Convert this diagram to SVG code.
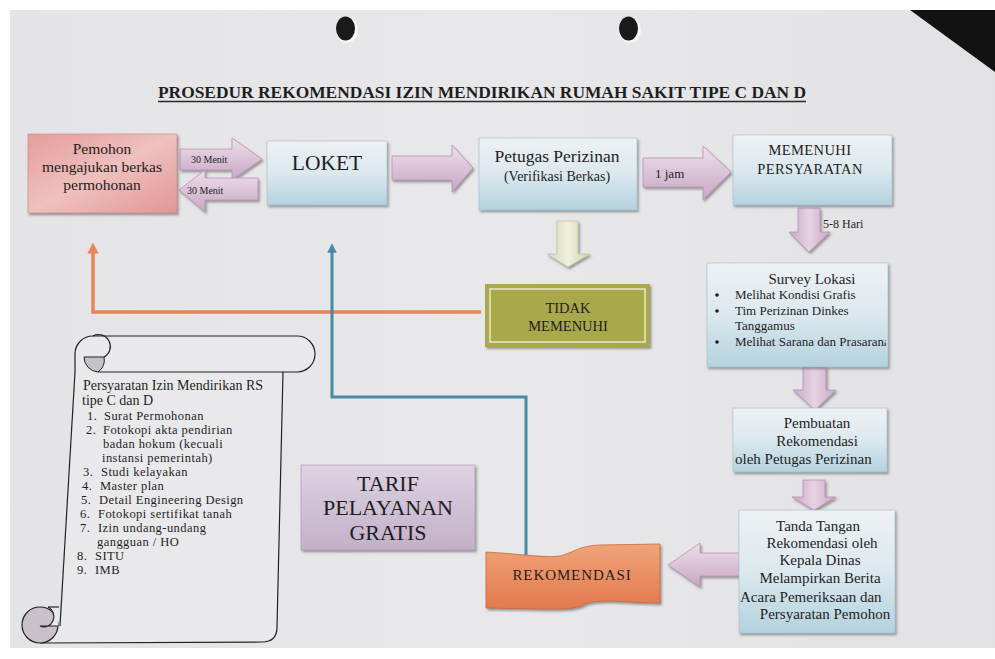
<svg xmlns="http://www.w3.org/2000/svg" width="995" height="659" viewBox="0 0 995 659" font-family="'Liberation Serif', 'DejaVu Serif', serif">
<defs>
<linearGradient id="gBlue" x1="0" y1="0" x2="0" y2="1"><stop offset="0" stop-color="#eef1f3"/><stop offset="0.5" stop-color="#dce8ee"/><stop offset="1" stop-color="#b3d2de"/></linearGradient>
<linearGradient id="gRed" x1="0" y1="0" x2="1" y2="1"><stop offset="0" stop-color="#e59d9d"/><stop offset="0.5" stop-color="#efc0bd"/><stop offset="1" stop-color="#e19696"/></linearGradient>
<linearGradient id="gArrow" x1="0" y1="0" x2="0" y2="1"><stop offset="0" stop-color="#eedfeb"/><stop offset="1" stop-color="#c7a6c3"/></linearGradient>
<linearGradient id="gArrowV" x1="0" y1="0" x2="1" y2="0"><stop offset="0" stop-color="#c9a8c5"/><stop offset="0.5" stop-color="#e6d3e2"/><stop offset="1" stop-color="#c9a8c5"/></linearGradient>
<linearGradient id="gYel" x1="0" y1="0" x2="1" y2="0"><stop offset="0" stop-color="#d6d6b8"/><stop offset="0.5" stop-color="#efefdc"/><stop offset="1" stop-color="#cfcfae"/></linearGradient>
<linearGradient id="gOrange" x1="0" y1="0" x2="0" y2="1"><stop offset="0" stop-color="#f1a37a"/><stop offset="1" stop-color="#e27a4c"/></linearGradient>
<linearGradient id="gPurple" x1="0" y1="0" x2="0" y2="1"><stop offset="0" stop-color="#ddd2e2"/><stop offset="1" stop-color="#c3b0c8"/></linearGradient>
<linearGradient id="gPaper" x1="0" y1="0" x2="1" y2="0"><stop offset="0" stop-color="#e4e4e6"/><stop offset="0.5" stop-color="#e8e8ea"/><stop offset="1" stop-color="#e2e2e4"/></linearGradient>
<filter id="sh" x="-10%" y="-10%" width="130%" height="130%"><feDropShadow dx="1.5" dy="2" stdDeviation="1" flood-color="#555" flood-opacity="0.55"/></filter>
<marker id="mOr" viewBox="0 0 10 10" refX="5" refY="5" markerWidth="3.2" markerHeight="3.2" orient="auto"><path d="M0,0 L10,5 L0,10 z" fill="#e8845a"/></marker>
<marker id="mBl" viewBox="0 0 10 10" refX="5" refY="5" markerWidth="3.2" markerHeight="3.2" orient="auto"><path d="M0,0 L10,5 L0,10 z" fill="#4a8aa8"/></marker>
<style>
text{font-family:'Liberation Serif','DejaVu Serif',serif;fill:#1e1e1e}
.c{text-anchor:middle}
.box{filter:url(#sh)}
.arr{fill:url(#gArrow);stroke:#b892b2;stroke-width:0.8;filter:url(#sh)}
.arrv{fill:url(#gArrowV);stroke:#b892b2;stroke-width:0.8;filter:url(#sh)}
.t13{font-size:13px}
.t14{font-size:14px}
.t15{font-size:15px}
.tp{font-size:15.5px}
.lst{font-size:12.5px;letter-spacing:0.45px}
.ln{fill:none;stroke:#222;stroke-width:1.2}
</style>
</defs>

<!-- paper / photo background -->
<rect x="0" y="0" width="995" height="659" fill="#ffffff"/>
<rect x="10" y="10" width="985" height="638" fill="url(#gPaper)"/>
<polygon points="910,10 995,10 995,72" fill="#121212"/>
<g id="holes">
<ellipse cx="347" cy="30" rx="11" ry="13" fill="#f6f6f6"/>
<ellipse cx="345.5" cy="28.5" rx="9.5" ry="12" fill="#1a1a1a"/>
<ellipse cx="630" cy="30" rx="11" ry="13" fill="#f6f6f6"/>
<ellipse cx="628.5" cy="28.5" rx="9.5" ry="12" fill="#1a1a1a"/>
</g>

<g id="title">
<text x="158" y="98" font-weight="bold" font-size="16" textLength="648" lengthAdjust="spacingAndGlyphs">PROSEDUR REKOMENDASI IZIN MENDIRIKAN RUMAH SAKIT TIPE C DAN D</text>
<line x1="158" y1="101.5" x2="806" y2="101.5" stroke="#2a2a2a" stroke-width="1.3"/>
</g>

<g id="connectors" fill="none">
<polyline points="481,312 93,312 93,248" stroke="#e8845a" stroke-width="3.5" marker-end="url(#mOr)"/>
<polyline points="526,557 526,397 332,397 332,248" stroke="#4a8aa8" stroke-width="3" marker-end="url(#mBl)"/>
<polygon class="arr" points="180,149 232,149 232,138 262,159 232,180 232,170 180,170"/>
<polygon class="arr" points="258,178 205,178 205,170 179,190 205,212 205,200 258,200"/>
<polygon class="arr" points="392,156 452,156 452,145 473,168 452,192 452,180 392,180"/>
<polygon class="arr" points="643,158 703,158 703,146 731,172 703,200 703,187 643,187"/>
<polygon class="arrv" points="798,208 820,208 820,232 830,232 809,252 789,232 798,232"/>
<polygon points="557,221 578,221 578,254 590,254 568,267 547,254 557,254" fill="url(#gYel)" stroke="#c4c4a4" stroke-width="0.8" filter="url(#sh)"/>
<polygon class="arrv" points="803,367 826,367 826,390 836,390 815,410 793,390 803,390"/>
<polygon class="arrv" points="803,480 825,480 825,497 836,497 814,510 792,497 803,497"/>
<polygon class="arr" points="742,553 700,553 700,543 668,565 700,587 700,576 742,576"/>
<text x="191" y="163" font-size="10">30 Menit</text>
<text x="187" y="194" font-size="10">30 Menit</text>
<text x="655" y="178" class="t13">1 jam</text>
<text x="823" y="228" font-size="12">5-8 Hari</text>
</g>

<g id="pemohon">
<rect class="box" x="28" y="134" width="149" height="79" fill="url(#gRed)" stroke="#c98080" stroke-width="0.6"/>
<text class="c tp" x="102" y="154">Pemohon</text>
<text class="c tp" x="102" y="172">mengajukan berkas</text>
<text class="c tp" x="102" y="190">permohonan</text>
</g>

<g id="loket">
<rect class="box" x="267" y="141" width="120" height="64" fill="url(#gBlue)" stroke="#9fbccb" stroke-width="0.6"/>
<text class="c" x="327" y="170" font-size="21.5">LOKET</text>
</g>

<g id="petugas">
<rect class="box" x="479" y="138" width="158" height="72" fill="url(#gBlue)" stroke="#9fbccb" stroke-width="0.6"/>
<text class="c" x="557" y="162" font-size="17.5">Petugas Perizinan</text>
<text class="c t14" x="557" y="181">(Verifikasi Berkas)</text>
</g>

<g id="memenuhi">
<rect class="box" x="733" y="135" width="159" height="70" fill="url(#gBlue)" stroke="#9fbccb" stroke-width="0.6"/>
<text class="c" x="810" y="155" font-size="14.5" letter-spacing="0.4">MEMENUHI</text>
<text class="c" x="810" y="174" font-size="14.5" letter-spacing="0.4">PERSYARATAN</text>
</g>

<g id="tidak">
<rect class="box" x="485" y="284" width="165" height="63" fill="#a9a84c"/>
<rect x="490" y="289" width="155" height="53" fill="none" stroke="#f2f2e0" stroke-width="1.3"/>
<text class="c" x="568" y="313" font-size="14.5">TIDAK</text>
<text class="c" x="568" y="331" font-size="14.5">MEMENUHI</text>
</g>

<g id="survey">
<rect class="box" x="707" y="263" width="181" height="104" fill="url(#gBlue)" stroke="#9fbccb" stroke-width="0.6"/>
<text class="c t15" x="812" y="284">Survey Lokasi</text>
<g class="t13">
<circle cx="717" cy="295" r="1.8" fill="#1e1e1e"/>
<text x="735" y="299" class="t13">Melihat Kondisi Grafis</text>
<circle cx="717" cy="311" r="1.8" fill="#1e1e1e"/>
<text x="735" y="315" class="t13">Tim Perizinan Dinkes</text>
<text x="735" y="330" class="t13">Tanggamus</text>
<circle cx="717" cy="342" r="1.8" fill="#1e1e1e"/>
<svg x="700" y="330" width="186" height="25" overflow="hidden"><text x="35" y="16" class="t13">Melihat Sarana dan Prasarana</text></svg>
</g>
</g>

<g id="pembuatan">
<rect class="box" x="733" y="408" width="154" height="64" fill="url(#gBlue)" stroke="#9fbccb" stroke-width="0.6"/>
<text class="c t15" x="817" y="428">Pembuatan</text>
<text class="c t15" x="817" y="446">Rekomendasi</text>
<svg x="733" y="450" width="154" height="20" overflow="hidden"><text x="2" y="14" class="t15">oleh Petugas  Perizinan</text></svg>
</g>

<g id="tandatangan">
<rect class="box" x="739" y="510" width="156" height="123" fill="url(#gBlue)" stroke="#9fbccb" stroke-width="0.6"/>
<text class="c t15" x="818" y="531">Tanda Tangan</text>
<text class="c t15" x="822" y="548">Rekomendasi oleh</text>
<text class="c t15" x="820" y="565">Kepala Dinas</text>
<text class="c t15" x="820" y="583">Melampirkan Berita</text>
<svg x="739" y="588" width="156" height="20" overflow="hidden"><text x="1" y="14" class="t15">Acara Pemeriksaan dan</text></svg>
<text class="c t15" x="825" y="619">Persyaratan Pemohon</text>
</g>

<g id="rekomendasi">
<path class="box" d="M486,552 C520,554 545,558 560,556 C575,552 578,546 600,545 L660,544 L660,603 C630,603 600,598 585,604 C575,610 560,609 540,609 L486,608 Z" fill="url(#gOrange)" stroke="#c76a3c" stroke-width="0.8"/>
<text class="c" x="572" y="580" font-size="15" letter-spacing="0.9">REKOMENDASI</text>
</g>

<g id="tarif">
<rect class="box" x="301" y="465" width="174" height="85" fill="url(#gPurple)" stroke="#a898ad" stroke-width="0.6"/>
<text class="c" x="388" y="491" font-size="22">TARIF</text>
<text class="c" x="388" y="515" font-size="22">PELAYANAN</text>
<text class="c" x="388" y="540" font-size="22">GRATIS</text>
</g>

<g id="persyaratan">
<path d="M75,352 L60,626 L40,643 L262,642 Q277,642 277,627 L283,372 Z" fill="#e9e9eb" stroke="none"/>
<path class="ln" d="M75,372 L60,626"/>
<path class="ln" d="M40,643 L262,642 Q277,642 277,627 L283,372"/>
<path d="M75,372 L75,354 A18,18 0 0 1 93,336 L297,336 A18,18 0 0 1 297,372 L98,372" fill="#e9e9eb" stroke="#222" stroke-width="1.2"/>
<path d="M84,357 L104,357 A14,14 0 0 1 98,372 A15,15 0 0 1 84,357 Z" fill="#c9c1c9" stroke="#222" stroke-width="1"/>
<path class="ln" d="M93,336 A10.5,10.5 0 0 1 104,357"/>
<circle cx="40" cy="625" r="18" fill="#c9c1c9" stroke="#222" stroke-width="1.2"/>
<path d="M48,607 A9,9.5 0 0 1 40,626 L58,626 L59,607 Z" fill="#e9e9eb" stroke="none"/>
<path class="ln" d="M48,607 A9,9.5 0 0 1 40,626 L58,626"/>
<path class="ln" d="M48,607 L59,607"/>
<text x="83" y="390" class="t14">Persyaratan Izin Mendirikan RS</text>
<text x="82" y="405" class="t14">tipe C dan D</text>
<g class="lst">
<text x="87" y="420" class="lst">1.</text><text x="104" y="420" class="lst">Surat Permohonan</text>
<text x="86" y="434" class="lst">2.</text><text x="103" y="434" class="lst">Fotokopi akta pendirian</text>
<text x="103" y="448" class="lst">badan hokum (kecuali</text>
<text x="102" y="462" class="lst">instansi pemerintah)</text>
<text x="83" y="476" class="lst">3.</text><text x="101" y="476" class="lst">Studi kelayakan</text>
<text x="82" y="490" class="lst">4.</text><text x="100" y="490" class="lst">Master plan</text>
<text x="81" y="504" class="lst">5.</text><text x="99" y="504" class="lst">Detail Engineering Design</text>
<text x="80" y="518" class="lst">6.</text><text x="98" y="518" class="lst">Fotokopi sertifikat tanah</text>
<text x="80" y="532" class="lst">7.</text><text x="98" y="532" class="lst">Izin undang-undang</text>
<text x="97" y="546" class="lst">gangguan / HO</text>
<text x="77" y="560" class="lst">8.</text><text x="95" y="560" class="lst">SITU</text>
<text x="77" y="574" class="lst">9.</text><text x="95" y="574" class="lst">IMB</text>
</g>
</g>
</svg>
